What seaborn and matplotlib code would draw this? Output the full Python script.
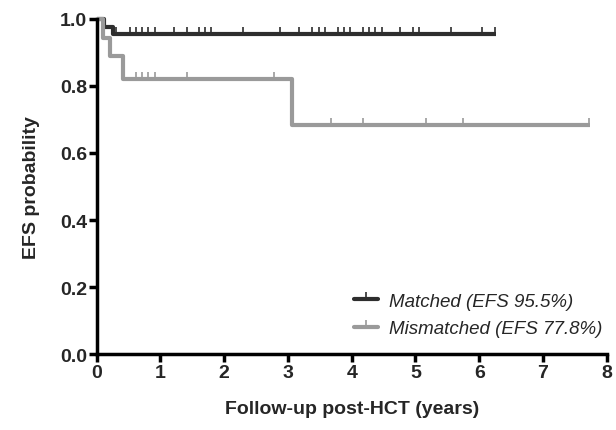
import matplotlib
matplotlib.use('Agg')
import matplotlib.pyplot as plt
from matplotlib.lines import Line2D
import seaborn as sns
import numpy as np

# Kaplan-Meier step points (time in years, EFS probability)
matched_time = [0.0, 0.12, 0.25, 6.27]
matched_surv = [1.0, 0.977, 0.955, 0.955]
matched_censor = [0.31, 0.52, 0.61, 0.71, 0.81, 0.91, 1.21, 1.41, 1.60, 1.70, 1.79,
                  2.29, 2.88, 3.18, 3.38, 3.49, 3.58, 3.78, 3.88, 3.97, 4.17, 4.27,
                  4.37, 4.47, 4.76, 4.96, 5.05, 5.55, 6.05, 6.24]

mismatched_time = [0.0, 0.10, 0.21, 0.41, 3.07, 7.74]
mismatched_surv = [1.0, 0.944, 0.889, 0.821, 0.684, 0.684]
mismatched_censor = [0.61, 0.71, 0.81, 0.91, 1.41, 2.78, 3.67, 4.17, 5.16, 5.75, 7.72]

labels = ['Matched (EFS 95.5%)', 'Mismatched (EFS 77.8%)']
colors = ['#2e2e2e', '#9a9a9a']


def step_value(times, surv, t):
    idx = np.searchsorted(times, t, side='right') - 1
    return np.asarray(surv)[idx]


sns.set_style('ticks')
plt.rcParams['font.family'] = ['Liberation Sans', 'DejaVu Sans']

fig = plt.figure(figsize=(6.16, 4.31), dpi=100)
ax = fig.add_axes([0.157, 0.176, 0.828, 0.778])

tick_marker = [(0, 0), (0, 1)]
handles = []
for t, s, c, col, lab in [(matched_time, matched_surv, matched_censor, colors[0], labels[0]),
                          (mismatched_time, mismatched_surv, mismatched_censor, colors[1], labels[1])]:
    sns.lineplot(x=t, y=s, ax=ax, color=col, linewidth=3, drawstyle='steps-post',
                 estimator=None, sort=False, clip_on=False, solid_capstyle='butt')
    ax.plot(c, step_value(t, s, c), linestyle='none', marker=tick_marker,
            markersize=10, markeredgewidth=1.2, color=col, clip_on=False)
    handles.append(Line2D([], [], color=col, linewidth=3, marker=tick_marker,
                          markersize=10, markeredgewidth=1.2))

ax.set_xlim(0, 8)
ax.set_ylim(0, 1.0)
ax.set_xticks(range(0, 9))
ax.set_yticks([0.0, 0.2, 0.4, 0.6, 0.8, 1.0])
ax.set_yticklabels(['0.0', '0.2', '0.4', '0.6', '0.8', '1.0'])
sns.despine(ax=ax)
for sp in ['left', 'bottom']:
    ax.spines[sp].set_linewidth(2.5)
    ax.spines[sp].set_color('black')
ax.tick_params(axis='both', length=6, width=2.5, labelsize=14, pad=1, color='black')
for lbl in ax.get_xticklabels() + ax.get_yticklabels():
    lbl.set_fontweight('bold')

ax.set_xlabel('Follow-up post-HCT (years)', fontsize=14, fontweight='bold', labelpad=14)
ax.set_ylabel('EFS probability', fontsize=14, fontweight='bold', labelpad=14)

leg = ax.legend(handles, labels, loc='lower right', bbox_to_anchor=(1.025, 0.0),
                frameon=False, handlelength=1.3, handletextpad=0.6,
                prop={'style': 'italic', 'size': 13.5}, labelspacing=0.55)

fig.savefig('out.png', dpi=100)
